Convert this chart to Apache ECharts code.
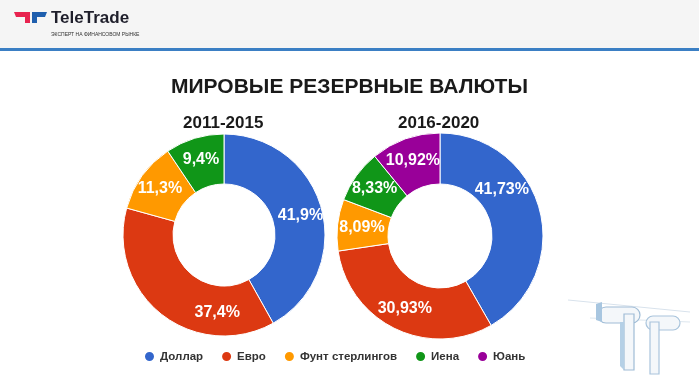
<!DOCTYPE html>
<html><head><meta charset="utf-8">
<script src="https://cdn.jsdelivr.net/npm/echarts@6/dist/echarts.min.js"></script>
<style>html,body{margin:0;padding:0;background:#fff}#c{width:699px;height:380px}</style>
</head><body><div id="c"></div>
<script>
const currencies = ['Доллар', 'Евро', 'Фунт стерлингов', 'Иена', 'Юань'];
const colors = ['#3366cc', '#dc3912', '#ff9900', '#109618', '#990099'];
const values2011 = [41.9, 37.4, 11.3, 9.4];
const values2016 = [41.73, 30.93, 8.09, 8.33, 10.92];
const labels2011 = ['41,9%', '37,4%', '11,3%', '9,4%'];
const labels2016 = ['41,73%', '30,93%', '8,09%', '8,33%', '10,92%'];
const mainTitle = 'МИРОВЫЕ РЕЗЕРВНЫЕ ВАЛЮТЫ';
const periods = ['2011-2015', '2016-2020'];

const FONT = '"Liberation Sans", Arial, sans-serif';
// label nudges (layout only), keyed "seriesIndex-dataIndex"
const labelNudge = { '0-1': [42, 15], '1-0': [-16, -26], '1-2': [2, 0] };

function mkData(vals, labs) {
  return vals.map((v, i) => ({ name: currencies[i], value: v, lbl: labs[i], itemStyle: { color: colors[i] } }));
}
const chart = echarts.init(document.getElementById('c'), null, { renderer: 'canvas' });
const pieBase = {
  type: 'pie', startAngle: 90, clockwise: true, avoidLabelOverlap: false,
  itemStyle: { borderColor: '#ffffff', borderWidth: 1 },
  label: { show: true, position: 'inside', color: '#fff', fontFamily: FONT, fontWeight: 'bold', fontSize: 16,
    formatter: p => p.data.lbl },
  labelLine: { show: false }, emphasis: { disabled: true }, animation: false,
  labelLayout: function (p) {
    const n = labelNudge[p.seriesIndex + '-' + p.dataIndex];
    return n ? { dx: n[0], dy: n[1] } : {};
  }
};
chart.setOption({
  animation: false,
  title: [
    { text: mainTitle, left: 'center', top: 72, textStyle: { fontFamily: FONT, fontSize: 21, fontWeight: 'bold', color: '#1a1a1a' } },
    { text: periods[0], left: 178, top: 110, textStyle: { fontFamily: FONT, fontSize: 17, fontWeight: 'bold', color: '#1a1a1a' } },
    { text: periods[1], left: 393, top: 110, textStyle: { fontFamily: FONT, fontSize: 17, fontWeight: 'bold', color: '#1a1a1a' } }
  ],
  legend: {
    data: currencies, left: 138, top: 345, icon: 'circle', itemWidth: 11, itemHeight: 11, itemGap: 17,
    textStyle: { fontFamily: FONT, fontSize: 11.5, fontWeight: 'bold', color: '#333' },
    selectedMode: false
  },
  graphic: [
    { type: 'rect', shape: { x: 0, y: 0, width: 699, height: 48 }, style: { fill: '#f5f5f5' }, z: -10 },
    { type: 'rect', shape: { x: 0, y: 48, width: 699, height: 3 }, style: { fill: '#3b7fc4' } },
    // logo icon
    { type: 'polygon', shape: { points: [[14,12],[30,12],[30,23],[25,23],[25,17],[16,17]] }, style: { fill: '#e8234f' } },
    { type: 'polygon', shape: { points: [[32,12],[47,12],[45,17],[37,17],[37,23],[32,23]] }, style: { fill: '#1f5fae' } },
    { type: 'text', left: 51, top: 10, style: { text: 'TeleTrade', fontFamily: FONT, fontSize: 17, fontWeight: 'bold', fill: '#1f1f2b' } },
    { type: 'text', left: 51, top: 32, style: { text: 'ЭКСПЕРТ НА ФИНАНСОВОМ РЫНКЕ', fontFamily: FONT, fontSize: 5, fill: '#333' } },
    // decorative sketch logo bottom-right
    { type: 'group', silent: true, children: [
      { type: 'line', shape: { x1: 568, y1: 300, x2: 690, y2: 312 }, style: { stroke: '#d8e2ec', lineWidth: 1 } },
      { type: 'line', shape: { x1: 590, y1: 318, x2: 690, y2: 322 }, style: { stroke: '#dde6ee', lineWidth: 1 } },
      { type: 'rect', shape: { x: 598, y: 307, width: 42, height: 16, r: 8 }, style: { fill: '#f4f7fa', stroke: '#9fbcd6', lineWidth: 1.2 } },
      { type: 'rect', shape: { x: 624, y: 314, width: 10, height: 56 }, style: { fill: '#f4f7fa', stroke: '#9fbcd6', lineWidth: 1.2 } },
      { type: 'rect', shape: { x: 646, y: 316, width: 34, height: 14, r: 7 }, style: { fill: '#f4f7fa', stroke: '#a9c4dc', lineWidth: 1.2 } },
      { type: 'rect', shape: { x: 650, y: 322, width: 9, height: 52 }, style: { fill: '#f4f7fa', stroke: '#a9c4dc', lineWidth: 1.2 } },
      { type: 'polygon', shape: { points: [[596,304],[602,302],[602,322],[596,320]] }, style: { fill: '#a8c6e0' } },
      { type: 'polygon', shape: { points: [[620,322],[624,322],[624,370],[620,366]] }, style: { fill: '#b5d0e6' } }
    ] }
  ],
  series: [
    Object.assign({}, pieBase, { name: periods[0], center: [224, 235], radius: [51, 101], data: mkData(values2011, labels2011) }),
    Object.assign({}, pieBase, { name: periods[1], center: [440, 236], radius: [52, 103], data: mkData(values2016, labels2016) })
  ]
});
</script></body></html>
